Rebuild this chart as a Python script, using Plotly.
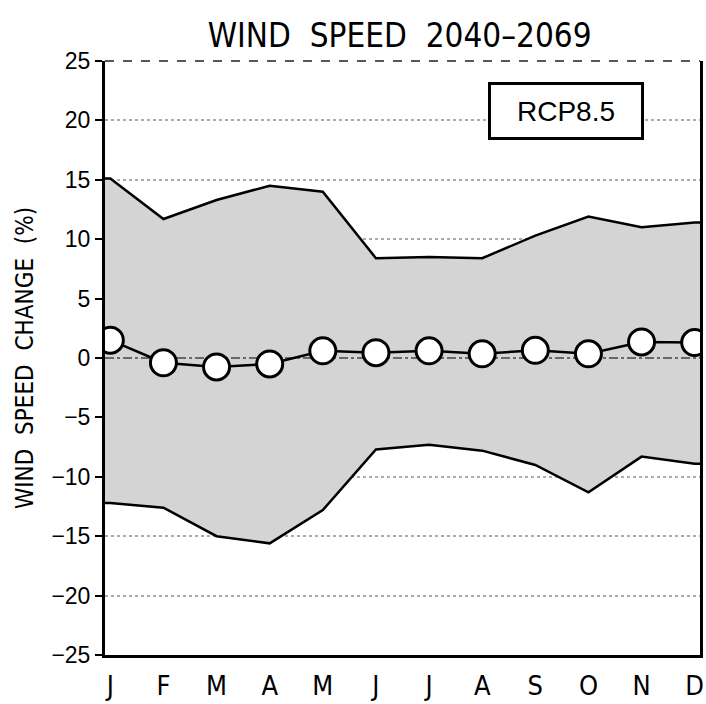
import plotly.graph_objects as go

months = ["J", "F", "M", "A", "M", "J", "J", "A", "S", "O", "N", "D"]
upper = [15.1, 11.7, 13.3, 14.5, 14.0, 8.4, 8.5, 8.4, 10.3, 11.9, 11.0, 11.4]
lower = [-12.2, -12.6, -15.0, -15.6, -12.8, -7.7, -7.3, -7.8, -9.0, -11.3, -8.3, -8.9]
mean = [1.5, -0.4, -0.75, -0.5, 0.6, 0.45, 0.6, 0.35, 0.65, 0.35, 1.35, 1.3]
yticks = [-25, -20, -15, -10, -5, 0, 5, 10, 15, 20, 25]

FONT = "Liberation Sans Narrow, DejaVu Sans Condensed, Liberation Sans, Arial"

x = [i + 0.5 for i in range(len(months))]
xr = [0.4, len(months) - 0.4]
# envelope extended flat to the frame edges
xe = [xr[0]] + x + [xr[1]]
up_e = [upper[0]] + upper + [upper[-1]]
lo_e = [lower[0]] + lower + [lower[-1]]

fig = go.Figure()
fig.add_trace(go.Scatter(x=xe + xe[::-1], y=up_e + lo_e[::-1], fill="toself",
                         fillcolor="#d4d4d4", line=dict(width=0), mode="lines",
                         hoverinfo="skip", showlegend=False))
fig.add_trace(go.Scatter(x=xe, y=up_e, mode="lines", line=dict(color="black", width=2.5),
                         showlegend=False))
fig.add_trace(go.Scatter(x=xe, y=lo_e, mode="lines", line=dict(color="black", width=2.5),
                         showlegend=False))
fig.add_trace(go.Scatter(x=xr, y=[0, 0], mode="lines",
                         line=dict(color="#444444", width=1.5, dash="dashdot"),
                         showlegend=False, hoverinfo="skip"))
fig.add_trace(go.Scatter(x=x, y=mean, mode="lines+markers",
                         line=dict(color="black", width=2.5),
                         marker=dict(size=26, color="white", line=dict(color="black", width=3)),
                         showlegend=False, cliponaxis=True))

# dashed top frame
fig.add_shape(type="line", xref="paper", yref="paper", x0=0, x1=1, y0=1, y1=1,
              line=dict(color="#222222", width=1.5, dash="dash"))

fig.add_annotation(xref="x", yref="y", x=9.08, y=20.8, text="RCP8.5", showarrow=False,
                   font=dict(family="Liberation Sans, Arial", size=28, color="black"),
                   width=140, height=42, align="center",
                   bordercolor="black", borderwidth=3, borderpad=5, bgcolor="white")

fig.update_layout(
    width=706, height=704,
    margin=dict(l=105, r=6, t=61, b=49, autoexpand=False),
    paper_bgcolor="white", plot_bgcolor="white",
    title=dict(text="WIND  SPEED  2040\u20132069", x=0.566, xanchor="center", y=0.95,
               yanchor="middle",
               font=dict(family=FONT, size=33, color="black")),
    font=dict(family=FONT, color="black"),
)
fig.update_xaxes(range=xr, tickmode="array", tickvals=x, ticktext=months,
                 showgrid=False, zeroline=False, showline=True, linecolor="black",
                 linewidth=3, ticks="", mirror=False, automargin=False,
                 tickfont=dict(size=27), ticklabelstandoff=5)
fig.update_yaxes(range=[-25, 25], tickmode="array", tickvals=yticks,
                 showgrid=True, gridcolor="#aaaaaa", griddash="dot", gridwidth=1.5,
                 zeroline=False, showline=True, mirror=True, linecolor="black", linewidth=3,
                 ticks="outside", ticklen=7, automargin=False,
                 tickwidth=2, tickcolor="black",
                 tickfont=dict(size=23, family="Liberation Sans, Arial"),
                 title=dict(text="WIND  SPEED  CHANGE  (%)", font=dict(size=24), standoff=11))
fig.write_html("out.html")
